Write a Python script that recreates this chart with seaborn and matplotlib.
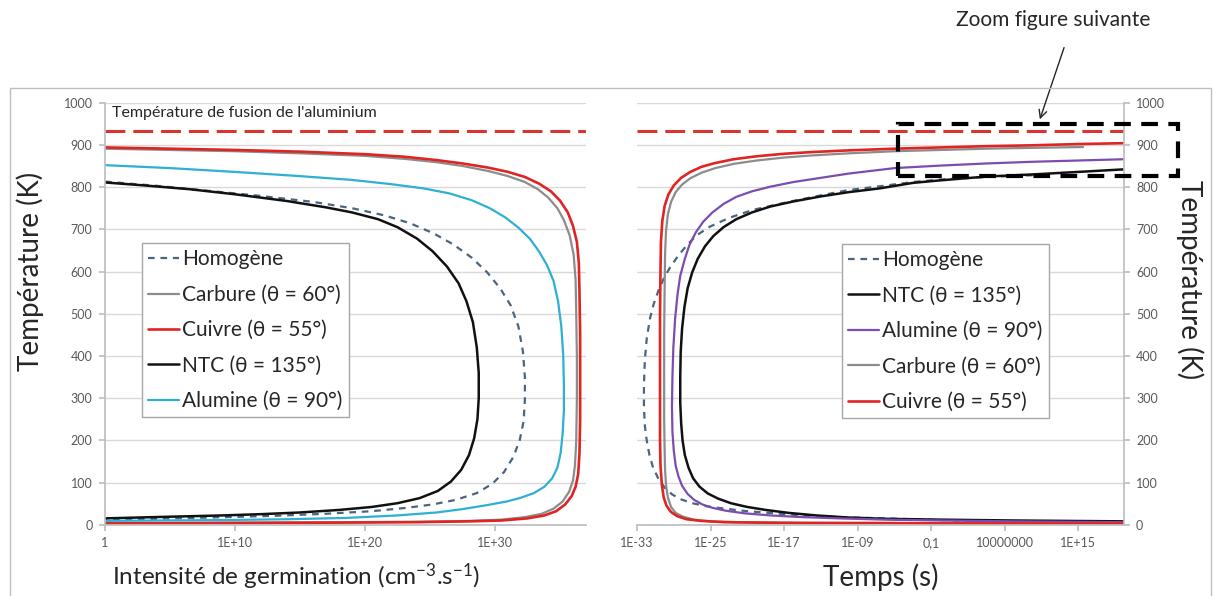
from matplotlib import pyplot as plt
from matplotlib.patches import Rectangle, FancyArrowPatch
from matplotlib.ticker import NullLocator
import numpy as np
import pandas as pd
import seaborn as sns


# ---- left panel: log10 of nucleation intensity vs temperature (K) ----
HOMO_LOGI = [0, 4, 8, 12, 16, 19, 21.5, 23.5, 25.3, 26.8, 28.2, 29.4, 30.4, 31.2, 31.8, 32.15, 32.3,
             32.3, 32.2, 31.9, 31.4, 30.7, 29.8, 28.6, 27, 25.2, 23.2, 20.5, 17, 13, 8, 4, 0]
HOMO_TI = [813, 803, 791, 779, 765, 750, 733, 714, 690, 664, 633, 598, 560, 520, 470, 410, 350,
           295, 245, 200, 160, 125, 97, 75, 59, 48, 40, 32, 26, 21, 17, 14, 12]

CARB_LOGI = [0, 5, 10, 15, 20, 23, 25.5, 27.5, 29.5, 31, 32.3, 33.3, 34.1, 34.8, 35.3, 35.75, 36.05,
             36.2, 36.25, 36.3, 36.3, 36.25, 36.15, 36, 35.7, 35.2, 34.5, 33.6, 32.3, 30.5, 28, 24,
             18, 10, 0]
CARB_TI = [891, 888, 885, 880, 874, 867, 859, 850, 838, 826, 812, 795, 775, 750, 722, 685, 640,
           580, 500, 400, 300, 200, 140, 105, 78, 55, 38, 26, 18, 12, 9, 7,
           6, 5, 4]

CUIV_LOGI = [0, 5, 10, 15, 20, 23, 25.5, 27.5, 29.5, 31, 32.3, 33.4, 34.3, 35, 35.6, 36, 36.3,
             36.45, 36.5, 36.55, 36.55, 36.55, 36.5, 36.4, 36.2, 35.9, 35.4, 34.7, 33.8, 32.5, 30.5,
             28, 24, 18, 10, 0]
CUIV_TI = [894, 891, 888, 884, 878, 872, 864, 856, 846, 836, 824, 808, 790, 768, 740, 708, 670,
           620, 550, 450, 350, 250, 170, 120, 90, 68, 48, 32, 22, 15, 10,
           8, 6, 5, 4, 3]

NTC_LOGI = [0, 3, 6.5, 10, 14, 17, 19, 21, 22.5, 24, 25.2, 26.3, 27.2, 27.8, 28.3, 28.6, 28.75,
            28.75, 28.65, 28.4, 28.0, 27.4, 26.6, 25.6, 24.2, 22.5, 20.5, 18, 15, 12, 9, 5, 0]
NTC_TI = [811, 804, 795, 783, 767, 752, 740, 724, 705, 678, 648, 612, 572, 530, 480, 420, 360,
          300, 250, 205, 165, 130, 102, 80, 63, 51, 42, 35, 29, 25, 22, 19, 15]

ALUM_LOGI = [0, 5, 10, 15, 19, 22, 24.5, 26.5, 28.2, 29.6, 30.8, 31.8, 32.7, 33.4, 34.0, 34.5,
             34.85, 35.1, 35.25, 35.3, 35.3, 35.2, 35.05, 34.8, 34.4, 33.8, 33, 32, 30.9, 29.3,
             27.5, 25.5, 22.5, 18.5, 14, 9, 4, 0]
ALUM_TI = [852, 845, 836, 826, 817, 807, 797, 785, 769, 750, 728, 704, 677, 647, 615, 578,
           530, 470, 400, 330, 270, 215, 170, 135, 110, 90, 75, 64, 55, 46,
           37, 29, 22, 16, 13, 11, 10, 9]

# ---- right panel: log10 of time (s) vs temperature (K) ----
HOMO_LOGT = [10, 5, 0, -3, -6.6, -10, -13.1, -16.5, -20.4, -23, -25.1, -26.5, -27.6, -28.6, -29.4,
             -30.1, -30.7, -31.2, -31.6, -31.95, -32.15, -32.25, -32.25, -32.15, -31.95, -31.65,
             -31.25, -30.7, -30, -29.2, -28.2, -27, -25.5, -23.5, -21, -18, -15, -11, -6, 0, 8, 19.9]
HOMO_TT = [828, 824, 818, 812, 802, 793, 780, 765, 746, 727, 706, 686, 662, 635, 610,
           583, 553, 522, 488, 440, 390, 330, 280, 235, 200, 165,
           135, 110, 88, 72, 60, 51, 44, 38, 32, 27, 22, 18, 15, 11, 8, 6]

NTC_LOGT = [19.9, 15, 10, 5, 0, -3, -6.6, -10, -13, -16, -18.5, -20.5, -22.2, -23.6, -24.7, -25.6,
            -26.4, -27, -27.5, -27.85, -28.1, -28.25, -28.3, -28.3, -28.2, -28.05, -27.8, -27.4,
            -26.9, -26.2, -25.3, -24.2, -22.8, -21, -19, -16.5, -13.5, -10, -6, 0, 8, 19.9]
NTC_TT = [842, 836, 830, 825, 816, 810, 797, 788, 778, 766, 754, 740, 724, 705, 684, 660,
          630, 598, 560, 515, 465, 410, 350, 290, 240, 200, 165, 135,
          110, 90, 74, 62, 51, 42, 35, 28, 22, 17, 14, 12, 10, 8]

ALUM_LOGT = [19.9, 15, 10, 5, 0, -5, -10, -13, -16, -18.5, -20.5, -22.2, -23.6, -24.8, -25.8, -26.6,
             -27.3, -27.8, -28.3, -28.6, -28.85, -29.05, -29.15, -29.2, -29.15, -29.0, -28.8, -28.5,
             -28.1, -27.5, -26.8, -25.9, -24.8, -23.3, -21.3, -18.5, -15, -11, -6, 0, 8, 19.9]
ALUM_TT = [866, 863, 860, 856, 851, 845, 832, 822, 812, 801, 790, 777, 760, 740, 718, 693,
           663, 630, 590, 545, 490, 420, 350, 280, 220, 175, 140, 115,
           92, 73, 59, 48, 40, 33, 27, 22, 18, 15, 12, 10, 8, 6]

CARB_LOGT = [15.5, 10, 5, 0, -5, -10, -14, -17, -20, -22.5, -24.5, -26, -27.2, -28.1, -28.8, -29.3,
             -29.65, -29.85, -29.95, -30, -30.05, -30.05, -30.05, -30, -29.95, -29.85, -29.65, -29.3,
             -28.8, -28, -26.8, -25, -22, -17, -10, 0, 10, 19.9]
CARB_TT = [895, 893, 891, 888, 885, 880, 875, 870, 863, 855, 845, 834, 821, 806, 788, 765,
           735, 695, 640, 560, 450, 350, 250, 180, 130, 95, 65, 42,
           28, 19, 12, 8, 6, 5, 4, 4, 3, 3]

CUIV_LOGT = [19.9, 15, 10, 5, 0, -5, -10, -14, -17, -20, -22.5, -24.5, -26, -27.2, -28.2, -29,
             -29.6, -30, -30.25, -30.4, -30.45, -30.5, -30.5, -30.5, -30.5, -30.45, -30.3, -30.1,
             -29.8, -29.3, -28.6, -27.6, -26, -23.5, -20, -15, -8, 0, 10, 19.9]
CUIV_TT = [904, 902, 899, 897, 894, 891, 887, 883, 879, 873, 866, 857, 848, 836, 822, 804,
           782, 755, 720, 670, 600, 500, 400, 300, 200, 140, 95, 65,
           45, 30, 20, 13, 9, 6, 5, 4, 4, 3, 3, 3]

MELT_T = 933

LEFT_XTICK_EXP = [0, 10, 20, 30]
LEFT_XTICK_LABELS = ["1", "1E+10", "1E+20", "1E+30"]
RIGHT_XTICK_EXP = [-33, -25, -17, -9, -1, 7, 15]
RIGHT_XTICK_LABELS = ["1E-33", "1E-25", "1E-17", "1E-09", "0,1", "10000000", "1E+15"]

HOMO_COLOR = "#4A6580"
GRID_COLOR = "#D9D9D9"
AXIS_COLOR = "#BFBFBF"
TICK_TEXT = "#595959"
TEXT_COLOR = "#262626"


def draw_curve(ax, logx, temps, label, color, lw=1.6, ls="-"):
    df = pd.DataFrame({"x": 10.0 ** np.array(logx), "T": temps})
    sns.lineplot(data=df, x="x", y="T", sort=False, estimator=None, ax=ax,
                 color=color, lw=lw, linestyle=ls, label=label, legend=False)


def style_axis(ax, xticks_exp, xtick_labels, xlim_exp, right=False):
    ax.set_xscale("log")
    ax.set_xlim(10.0 ** xlim_exp[0], 10.0 ** xlim_exp[1])
    ax.set_ylim(0, 1000)
    ax.set_xticks(10.0 ** np.array(xticks_exp, dtype=float))
    ax.set_xticklabels(xtick_labels)
    ax.xaxis.set_minor_locator(NullLocator())
    ax.set_yticks(range(0, 1001, 100))
    ax.yaxis.grid(True, color=GRID_COLOR, lw=1)
    ax.xaxis.grid(False)
    ax.set_axisbelow(True)
    for side in ["top", "left", "right"]:
        ax.spines[side].set_visible(False)
    ax.spines["bottom"].set_color(AXIS_COLOR)
    side = "right" if right else "left"
    ax.spines[side].set_visible(True)
    ax.spines[side].set_color(AXIS_COLOR)
    if right:
        ax.yaxis.tick_right()
    ax.tick_params(axis="both", which="major", length=4, color=AXIS_COLOR,
                   labelcolor=TICK_TEXT, labelsize=9, bottom=True,
                   left=not right, right=right, pad=5)
    ax.set_xlabel("")
    ax.set_ylabel("")


def main():
    sns.set_theme(style="white")
    plt.rcParams["font.family"] = ["Lato", "DejaVu Sans"]
    plt.rcParams["mathtext.fontset"] = "custom"
    plt.rcParams["mathtext.rm"] = "Lato"
    plt.rcParams["mathtext.default"] = "regular"

    fig = plt.figure(figsize=(12.15, 5.96), dpi=100)
    ax1 = fig.add_axes([0.0864, 0.1196, 0.3959, 0.7081])
    ax2 = fig.add_axes([0.5243, 0.1196, 0.4004, 0.7081])

    # left panel
    ax1.axhline(MELT_T, color="#D9352F", lw=2.2, linestyle=(0, (6.5, 2.6)))
    draw_curve(ax1, HOMO_LOGI, HOMO_TI, "Homogène", HOMO_COLOR, lw=1.6, ls=(0, (3, 2.6)))
    draw_curve(ax1, CARB_LOGI, CARB_TI, "Carbure (θ = 60°)", "#8C8C8C")
    draw_curve(ax1, CUIV_LOGI, CUIV_TI, "Cuivre (θ = 55°)", "#E02424", lw=1.9)
    draw_curve(ax1, NTC_LOGI, NTC_TI, "NTC (θ = 135°)", "#111111", lw=1.8)
    draw_curve(ax1, ALUM_LOGI, ALUM_TI, "Alumine (θ = 90°)", "#2EAFD4")
    style_axis(ax1, LEFT_XTICK_EXP, LEFT_XTICK_LABELS, (0, 37))

    ax1.text(0.0146, 0.9756, "Température de fusion de l'aluminium", transform=ax1.transAxes,
             fontsize=11.5, color=TEXT_COLOR, va="center", ha="left")

    # right panel
    ax2.axhline(MELT_T, color="#D9352F", lw=2.2, linestyle=(0, (6.5, 2.6)))
    draw_curve(ax2, HOMO_LOGT, HOMO_TT, "Homogène", HOMO_COLOR, lw=1.6, ls=(0, (3, 2.6)))
    draw_curve(ax2, NTC_LOGT, NTC_TT, "NTC (θ = 135°)", "#111111", lw=1.8)
    draw_curve(ax2, ALUM_LOGT, ALUM_TT, "Alumine (θ = 90°)", "#7B4DB0")
    draw_curve(ax2, CARB_LOGT, CARB_TT, "Carbure (θ = 60°)", "#8C8C8C")
    draw_curve(ax2, CUIV_LOGT, CUIV_TT, "Cuivre (θ = 55°)", "#E02424", lw=1.9)
    style_axis(ax2, RIGHT_XTICK_EXP, RIGHT_XTICK_LABELS, (-33, 19.9), right=True)

    # legends
    for ax, anchor in [(ax1, (0.076, 0.667)), (ax2, (0.421, 0.665))]:
        handles, labels = ax.get_legend_handles_labels()
        leg = ax.legend(handles, labels, loc="upper left", bbox_to_anchor=anchor,
                        borderaxespad=0, fontsize=15, frameon=True, fancybox=False,
                        handlelength=1.5, handletextpad=0.15, labelspacing=0.74,
                        borderpad=0.3, framealpha=1)
        leg.get_frame().set_edgecolor("#A6A6A6")
        leg.get_frame().set_linewidth(1)
        for t in leg.get_texts():
            t.set_color(TEXT_COLOR)

    # axis titles
    ax1.set_xlabel("Intensité de germination (cm$^{-3}$.s$^{-1}$)", fontsize=17.5, color=TEXT_COLOR)
    ax1.xaxis.set_label_coords(0.397, -0.124)
    ax1.xaxis.label.set_va("center")
    ax1.set_ylabel("Température (K)", fontsize=20, color=TEXT_COLOR)
    ax1.yaxis.set_label_coords(-0.156, 0.6)
    ax1.yaxis.label.set_va("center")

    ax2.set_xlabel("Temps (s)", fontsize=20, color=TEXT_COLOR)
    ax2.xaxis.set_label_coords(0.5, -0.124)
    ax2.xaxis.label.set_va("center")
    ax2.yaxis.set_label_position("right")
    ax2.set_ylabel("Température (K)", fontsize=20, color=TEXT_COLOR, rotation=270)
    ax2.yaxis.set_label_coords(1.137, 0.58)
    ax2.yaxis.label.set_va("center")

    # zoom box + note
    ax2.add_patch(Rectangle((0.537, 0.826), 0.575, 0.123, transform=ax2.transAxes,
                            fill=False, ec="black", lw=3, linestyle=(0, (4, 2.5)),
                            clip_on=False, zorder=5))
    fig.text(0.867, 0.966, "Zoom figure suivante", fontsize=15, color=TEXT_COLOR,
             ha="center", va="center")
    fig.add_artist(FancyArrowPatch((0.8765, 0.9245), (0.8551, 0.7953),
                                   transform=fig.transFigure, arrowstyle="->",
                                   mutation_scale=14, lw=1, color=TEXT_COLOR))

    # chart area frame
    fig.add_artist(Rectangle((0.0082, -0.01), 0.9885, 0.8623, transform=fig.transFigure,
                             fill=False, ec=AXIS_COLOR, lw=1))

    fig.savefig("out.png", dpi=100)


if __name__ == "__main__":
    main()
